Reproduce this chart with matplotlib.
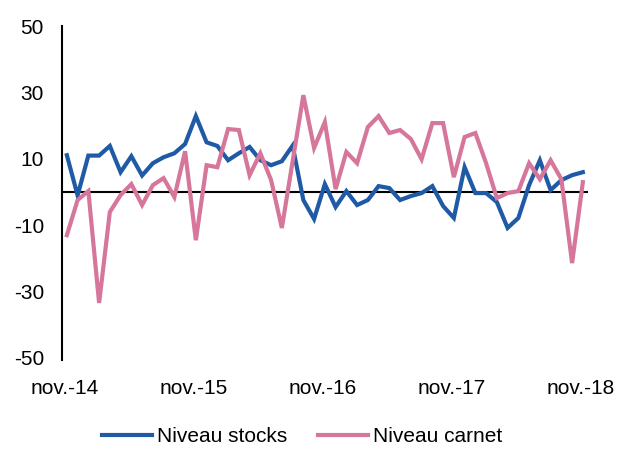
import matplotlib as mpl
mpl.use("Agg")
import matplotlib.pyplot as plt

plt.rcParams["font.family"] = ["Liberation Sans", "DejaVu Sans"]

# Data (monthly, nov-14 .. nov-18)
stocks = [11.1, -1.0, 11.0, 11.0, 13.9, 6.0, 10.8, 5.0, 8.7, 10.5,
          11.7, 14.5, 22.9, 15.0, 13.9, 9.6, 11.7, 13.6, 9.6, 8.1,
          9.3, 14.0, -2.4, -8.1, 2.4, -4.5, 0.3, -3.9, -2.4, 1.8,
          1.2, -2.4, -1.2, -0.3, 1.8, -4.2, -7.8, 7.5, -0.3, -0.3,
          -3.0, -10.8, -7.8, 2.1, 9.6, 0.6, 3.6, 5.1, 6.0]
carnet = [-13.0, -2.4, 0.3, -33.4, -6.0, -0.9, 2.4, -3.9, 2.1, 4.2,
          -1.5, 12.3, -14.5, 8.1, 7.5, 19.0, 18.7, 5.1, 11.7, 3.6,
          -10.8, 9.2, 29.2, 13.3, 21.1, 0.9, 12.1, 8.7, 19.6, 22.9,
          17.8, 18.7, 16.0, 9.9, 20.8, 20.8, 4.5, 16.6, 17.8, 8.7,
          -1.8, -0.3, 0.3, 8.7, 3.9, 9.6, 3.9, -21.4, 3.0]
tick_labels = ["nov.-14", "nov.-15", "nov.-16", "nov.-17", "nov.-18"]
yticks = [-50, -30, -10, 10, 30, 50]

blue = "#1f5aa6"
pink = "#d6769b"

fig = plt.figure(figsize=(6.22, 4.49), dpi=100)
ax = fig.add_axes([0.0997, 0.2027, 0.846, 0.739])

x = list(range(len(stocks)))
ax.plot(x, stocks, color=blue, lw=3.0, label="Niveau stocks", solid_joinstyle="miter")
ax.plot(x, carnet, color=pink, lw=3.0, label="Niveau carnet", solid_joinstyle="miter")
ax.axhline(0, color="black", lw=1.5, zorder=1)

ax.set_xlim(-0.45, 48.5)
ax.set_ylim(-50, 50)
ax.set_yticks(yticks)
ax.set_yticklabels([str(v) for v in yticks])
ax.set_xticks([12 * i - 0.2 for i in range(len(tick_labels))])
ax.set_xticklabels(tick_labels)
ax.tick_params(axis="y", length=0, pad=13, labelsize=15)
ax.tick_params(axis="x", length=0, pad=15, labelsize=15)

for s in ["top", "right", "bottom"]:
    ax.spines[s].set_visible(False)
ax.spines["left"].set_linewidth(1.5)
ax.spines["left"].set_bounds(-50.5, 50)

fig.legend(loc="center", bbox_to_anchor=(0.486, 0.027), ncol=2, frameon=False,
           fontsize=15, handlelength=2.4, handletextpad=0.25, columnspacing=1.45)

fig.savefig("out.png", dpi=100)
